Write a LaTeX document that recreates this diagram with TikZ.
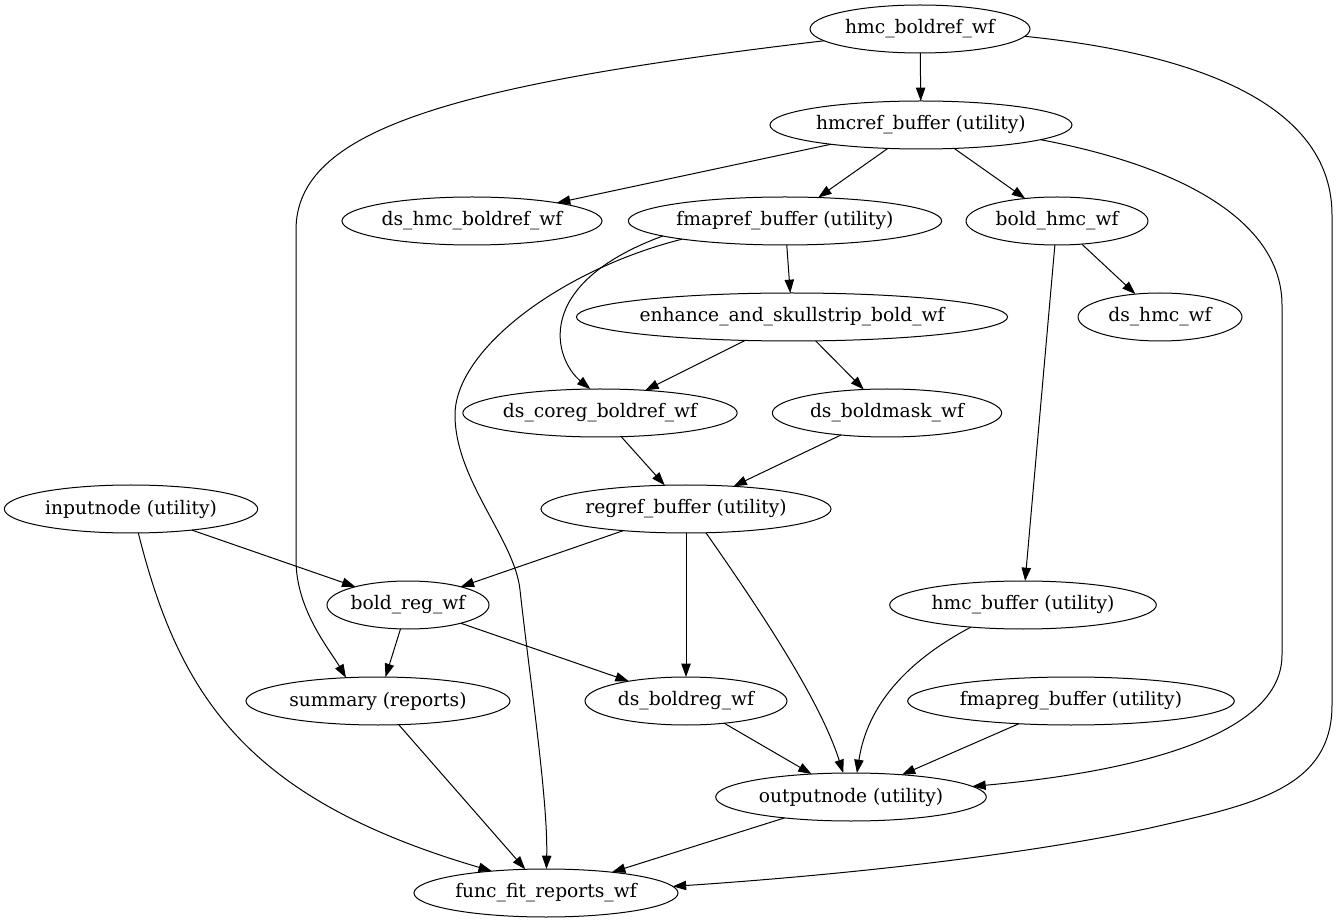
\documentclass[tikz,border=0pt]{standalone}
\usepackage{fontspec}
\setmainfont{DejaVu Serif}
\usepackage{tikz}
\usetikzlibrary{shapes.geometric,arrows.meta}

\begin{document}
\begin{tikzpicture}[x=0.75pt, y=-0.75pt, >={Triangle[length=10pt,width=7pt]}, line width=0.75pt,
    blob/.style={draw, ellipse, inner sep=0pt, outer sep=0pt, minimum height=36pt, minimum width=#1, font=\fontsize{14}{16}\selectfont}]
    \useasboundingbox (0,0) rectangle (1336,923);

    % Knoten, Reihe fuer Reihe
    \node[blob=165pt] (hmcbold) at (920, 29) {hmc\_boldref\_wf};
    \node[blob=226.5pt] (hmcref) at (921, 125) {hmcref\_buffer (utility)};
    \node[blob=195pt] (dshmcref) at (472, 221) {ds\_hmc\_boldref\_wf};
    \node[blob=235pt] (fmapref) at (785, 221) {fmapref\_buffer (utility)};
    \node[blob=136.5pt] (boldhmc) at (1057, 221) {bold\_hmc\_wf};
    \node[blob=319pt] (enhance) at (792, 317) {enhance\_and\_skullstrip\_bold\_wf};
    \node[blob=123pt] (dshmc) at (1160, 317) {ds\_hmc\_wf};
    \node[blob=189pt] (dscoreg) at (600, 413) {ds\_coreg\_boldref\_wf};
    \node[blob=172pt] (dsmask) at (887, 413) {ds\_boldmask\_wf};
    \node[blob=190pt] (inputnode) at (131, 509) {inputnode (utility)};
    \node[blob=217.5pt] (regref) at (686, 509) {regref\_buffer (utility)};
    \node[blob=109pt] (boldreg) at (408, 605) {bold\_reg\_wf};
    \node[blob=200pt] (hmcbuf) at (1023, 605) {hmc\_buffer (utility)};
    \node[blob=198pt] (summary) at (378, 701) {summary (reports)};
    \node[blob=151.5pt] (dsreg) at (686, 701) {ds\_boldreg\_wf};
    \node[blob=245pt] (fmapreg) at (1071, 701) {fmapreg\_buffer (utility)};
    \node[blob=203pt] (outputnode) at (851, 797) {outputnode (utility)};
    \node[blob=198pt] (funcfit) at (546, 893) {func\_fit\_reports\_wf};

    % gerade Kanten
    \draw[->] (hmcbold) -- (hmcref);
    \draw[->] (hmcref) -- (dshmcref);
    \draw[->] (hmcref) -- (fmapref);
    \draw[->] (hmcref) -- (boldhmc);
    \draw[->] (fmapref) -- (enhance);
    \draw[->] (boldhmc) -- (dshmc);
    \draw[->] (boldhmc) -- (hmcbuf);
    \draw[->] (enhance) -- (dscoreg);
    \draw[->] (enhance) -- (dsmask);
    \draw[->] (dscoreg) -- (regref);
    \draw[->] (dsmask) -- (regref);
    \draw[->] (inputnode) -- (boldreg);
    \draw[->] (regref) -- (boldreg);
    \draw[->] (regref) -- (dsreg);
    \draw[->] (boldreg) -- (summary);
    \draw[->] (boldreg) -- (dsreg);
    \draw[->] (summary) -- (funcfit);
    \draw[->] (dsreg) -- (outputnode);
    \draw[->] (fmapreg) -- (outputnode);
    \draw[->] (outputnode) -- (funcfit);

    % gebogene Kanten
    \draw[->] (hmcbold.187) .. controls (450,85) and (296,130) .. (296,230) -- (296,560)
        .. controls (296,610) and (330,650) .. (summary.144);
    \draw[->] (hmcbold.356) .. controls (1210,55) and (1332,110) .. (1332,215) -- (1332,705)
        .. controls (1332,790) and (1250,805) .. (1150,828)
        .. controls (1000,860) and (800,878) .. (funcfit.3);
    \draw[->] (hmcref.353) .. controls (1200,170) and (1282,230) .. (1282,305) -- (1282,655)
        .. controls (1282,745) and (1100,775) .. (outputnode.5);
    \draw[->] (fmapref.187) .. controls (530,285) and (555,360) .. (dscoreg.112);
    \draw[->] (fmapref.190) .. controls (560,270) and (455,350) .. (455,415)
        .. controls (455,480) and (515,540) .. (520,590)
        .. controls (530,680) and (548,800) .. (funcfit.89);
    \draw[->] (inputnode.287) .. controls (180,700) and (250,800) .. (funcfit.158);
    \draw[->] (regref.310) .. controls (760,610) and (820,700) .. (outputnode.108);
    \draw[->] (hmcbuf.203) .. controls (890,670) and (865,720) .. (outputnode.76);
\end{tikzpicture}
\end{document}
